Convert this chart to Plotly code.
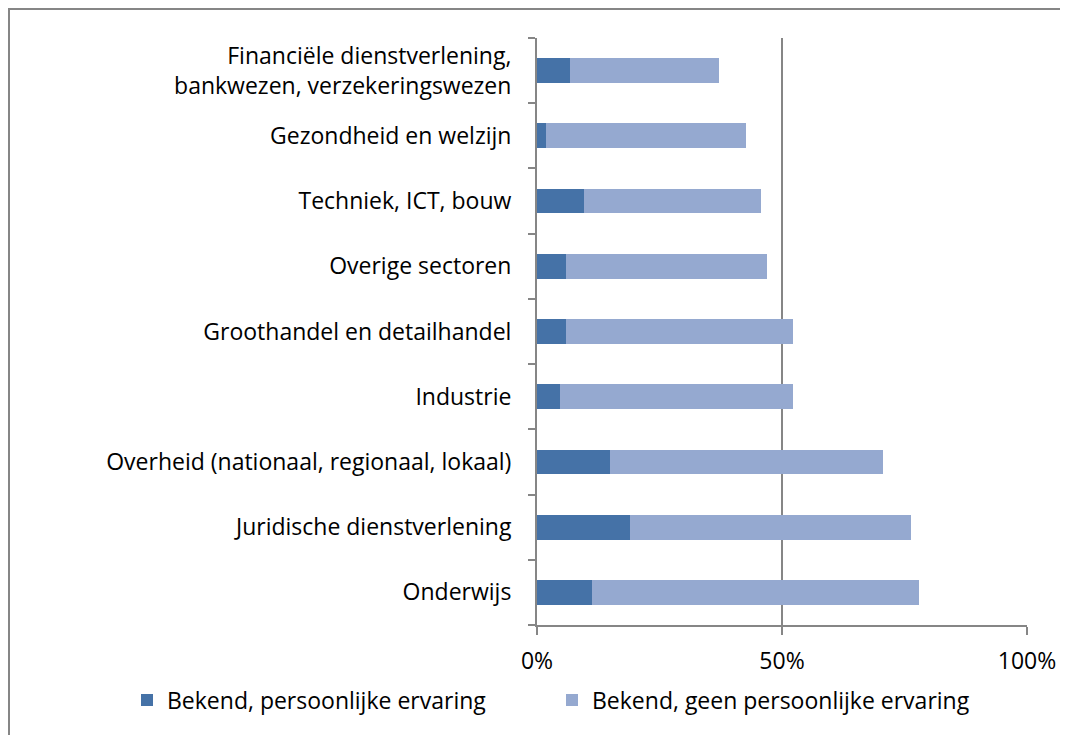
import plotly.graph_objects as go

categories = [
    "Onderwijs",
    "Juridische dienstverlening",
    "Overheid (nationaal, regionaal, lokaal)",
    "Industrie",
    "Groothandel en detailhandel",
    "Overige sectoren",
    "Techniek, ICT, bouw",
    "Gezondheid en welzijn",
    "Financiële dienstverlening,<br>bankwezen, verzekeringswezen",
]
# percentages (bottom to top)
persoonlijk = [11.2, 18.9, 14.8, 4.7, 5.9, 5.9, 9.5, 1.8, 6.7]
totaal = [78.0, 76.4, 70.7, 52.3, 52.3, 47.0, 45.8, 42.6, 37.2]
geen_persoonlijk = [round(t - p, 1) for t, p in zip(totaal, persoonlijk)]

donker = "#4572a7"
licht = "#95a9d0"
grijs = "#868686"
font_naam = "Open Sans"

# page body has an 8px margin, so the figure starts at (8, 8)
W, H = 1060, 727
ml, mt = 529, 30
pw, ph = 490, 587
mr, mb = W - ml - pw, H - mt - ph

fig = go.Figure()
fig.add_trace(go.Bar(
    y=categories, x=persoonlijk, orientation="h",
    name="Bekend, persoonlijke ervaring",
    marker=dict(color=donker, line=dict(width=0)),
))
fig.add_trace(go.Bar(
    y=categories, x=geen_persoonlijk, orientation="h",
    name="Bekend, geen persoonlijke ervaring",
    marker=dict(color=licht, line=dict(width=0)),
))

fig.update_layout(
    width=W, height=H,
    barmode="stack",
    bargap=0.62,
    plot_bgcolor="white",
    paper_bgcolor="white",
    margin=dict(l=ml, r=mr, t=mt, b=mb),
    font=dict(family=font_naam, size=23, color="black"),
    xaxis=dict(
        range=[0, 100],
        tickvals=[0, 50, 100],
        ticktext=["0%", "50%", "100%"],
        showgrid=True, gridcolor=grijs, gridwidth=2,
        showline=True, linecolor=grijs, linewidth=2,
        ticks="outside", ticklen=8, tickcolor=grijs, tickwidth=2,
        ticklabelstandoff=6,
        zeroline=False,
        automargin=False,
    ),
    yaxis=dict(
        type="category",
        tickson="boundaries",
        showline=True, linecolor=grijs, linewidth=2,
        ticks="outside", ticklen=7, tickcolor=grijs, tickwidth=2,
        ticklabelstandoff=19,
        showgrid=False,
        automargin=False,
    ),
    legend=dict(
        orientation="h",
        xref="paper", yref="paper",
        x=(127 - 537) / pw, xanchor="left",
        y=-75 / ph, yanchor="middle",
        font=dict(size=23),
        itemwidth=30,
        entrywidth=380,
        traceorder="normal",
    ),
    showlegend=True,
)

# outer chart border as thin filled strips (top and left edge only)
fig.add_shape(type="rect", xref="paper", yref="paper",
              x0=-ml / pw, x1=(W - ml) / pw,
              y0=(ph + mt - 2) / ph, y1=(ph + mt) / ph,
              fillcolor=grijs, line=dict(width=0), layer="below")
fig.add_shape(type="rect", xref="paper", yref="paper",
              x0=-ml / pw, x1=(-ml + 2) / pw,
              y0=-mb / ph, y1=(ph + mt) / ph,
              fillcolor=grijs, line=dict(width=0), layer="below")

fig.write_html("out.html")
